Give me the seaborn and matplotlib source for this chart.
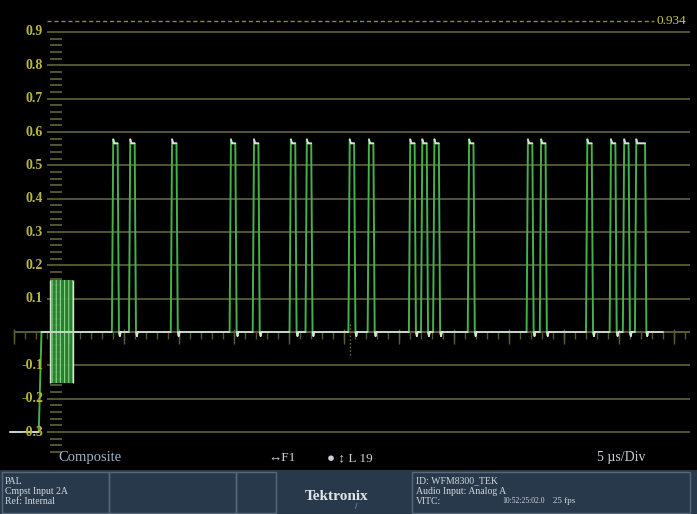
import numpy as np
import pandas as pd
import matplotlib
matplotlib.use("Agg")
import matplotlib.pyplot as plt
from matplotlib.patches import Rectangle
import seaborn as sns

# waveform monitor readout: PAL composite, VITC line, 5 us/div
level_ticks = [0.9, 0.8, 0.7, 0.6, 0.5, 0.4, 0.3, 0.2, 0.1, -0.1, -0.2, -0.3]
cursor_level = 0.934
sync_level = -0.3
trace_start_us = -0.36
sync_end_us = 2.25
sync_rise_us = 2.5
burst_start_us = 3.27
burst_end_us = 5.36
burst_top = 0.156
burst_bottom = -0.152
pulse_start_us = [8.9, 10.45, 14.25, 19.6, 21.7, 25.05, 26.5, 30.4, 32.15,
                  35.9, 37.0, 38.1, 41.25, 46.6, 47.8, 52.0, 54.15, 55.35, 56.45]
pulse_width_us = [0.6] * 18 + [1.0]
pulse_peak = 0.578
pulse_top = 0.566
trace_end_us = 59.0

left_box_lines = ["PAL", "Cmpst Input 2A", "Ref: Internal"]
right_box_lines = ["ID: WFM8300_TEK", "Audio Input: Analog A", "VITC:"]
vitc_code = "10:52:25:02.0"
frame_rate = "25 fps"

serif = ["Liberation Serif", "DejaVu Serif"]

# build trace vertices from the pulse lists
t = [trace_start_us, sync_end_us, sync_rise_us]
v = [sync_level, sync_level, 0.0]
for s, w in zip(pulse_start_us, pulse_width_us):
    t += [s, s + 0.12, s + 0.22, s + w - 0.08, s + w + 0.04, s + w + 0.12, s + w + 0.2]
    v += [0.0, pulse_peak, pulse_top, pulse_top, 0.0, -0.012, 0.0]
t.append(trace_end_us)
v.append(0.0)
trace = pd.DataFrame({"us": t, "level": v})

sns.set_theme(style="dark", rc={"axes.facecolor": "black", "figure.facecolor": "black",
                                "hatch.linewidth": 0.8})

fig = plt.figure(figsize=(6.97, 5.14), dpi=100)
ax = fig.add_axes([0, 0, 1, 1])
ax.set_xlim(-14 / 11, 683 / 11)
ax.set_ylim(-0.546, 0.996)
ax.axis("off")

grid_c = "#55552f"
# graticule
for lv in level_ticks:
    ax.hlines(lv, 3.0, 61.45, color=grid_c, lw=1.4, zorder=1)
    ax.text(2.64, lv, f"{lv:g}", ha="right", va="center", fontsize=10,
            fontweight="bold", family=serif, color="#b8b63c", zorder=5)
minor = [m for m in np.arange(-0.36, 0.89, 0.02) if abs(m * 10 - round(m * 10)) > 0.05]
ax.hlines(minor, 3.27, 4.36, color="#626238", lw=1.2, zorder=1)
ax.hlines(0, 0, 61.45, color="#6e6e36", lw=1.2, zorder=1)
us_ticks = np.arange(0, 62, 1)
ax.vlines(us_ticks, -0.022, 0.004, color="#55552f", lw=1.0, zorder=1)
ax.vlines(us_ticks[::5], -0.035, 0.008, color="#5e5e34", lw=1.0, zorder=1)
ax.vlines(30.55, -0.07, 0.027, color="#6f6f38", lw=1.0, linestyles=":", zorder=1)

# cursor
ax.hlines(cursor_level, 3.0, 58.2, color="#8a8a40", lw=1.0, linestyles=(0, (3, 2)), zorder=2)
ax.text(58.45, cursor_level, f"{cursor_level:g}", ha="left", va="center", fontsize=9.5,
        family=serif, color="#c8c848")

# colour burst
ax.fill_between([burst_start_us, burst_end_us], burst_bottom, burst_top,
                facecolor="#2f8a38", edgecolor="#8fe08a", hatch="||||", lw=0, alpha=0.9, zorder=3)
ax.vlines([burst_start_us, burst_end_us], burst_bottom, burst_top, color="#d0e8c8", lw=1.0, zorder=3)

# trace: edges green, flat parts white
sns.lineplot(data=trace, x="us", y="level", sort=False, estimator=None,
             color="#45b04c", lw=1.4, ax=ax, zorder=4)
xs, ys = [], []
for i in np.where(np.abs(np.diff(v)) < 0.05)[0]:
    xs += [t[i], t[i + 1], np.nan]
    ys += [v[i], v[i + 1], np.nan]
ax.plot(xs, ys, color="#dadfda", lw=1.2, zorder=4)


def px(x, y):
    return x / 697, 1 - y / 514


# status row
tr = ax.transAxes
ax.text(*px(58, 458), "Composite", transform=tr, ha="left", va="center", fontsize=10.5,
        family=serif, color="#9fb8cc")
ax.text(*px(268, 458), "\u2194F1", transform=tr, ha="left", va="center", fontsize=9.5,
        family=serif, color="#c8d0d8")
ax.text(*px(327, 458), "\u25cf \u2195 L 19", transform=tr, ha="left", va="center", fontsize=9.5,
        family=serif, color="#c8d0d8")
ax.text(*px(597, 458), "5 \u00b5s/Div", transform=tr, ha="left", va="center", fontsize=10,
        family=serif, color="#c8d0d8")

# bottom status panel
ax.add_patch(Rectangle(px(0, 514), 1, 44 / 514, transform=tr, facecolor="#28394b",
                       edgecolor="none", zorder=6))
for x0, x1 in [(2, 109), (109, 236), (236, 276), (412, 690)]:
    ax.add_patch(Rectangle(px(x0, 513), (x1 - x0) / 697, 41 / 514, transform=tr,
                           facecolor="none", edgecolor="#56687a", lw=1.0, zorder=7))
for i, line in enumerate(left_box_lines):
    ax.text(*px(5, 481 + 10 * i), line, transform=tr, ha="left", va="center", fontsize=7,
            family=serif, color="#d4d8dc", zorder=8)
for i, line in enumerate(right_box_lines):
    ax.text(*px(416, 481 + 10 * i), line, transform=tr, ha="left", va="center", fontsize=7,
            family=serif, color="#d4d8dc", zorder=8)
ax.text(*px(502, 501), vitc_code, transform=tr, ha="left", va="center", fontsize=5.5,
        family=serif, color="#d4d8dc", zorder=8)
ax.text(*px(553, 501), frame_rate, transform=tr, ha="left", va="center", fontsize=6.5,
        family=serif, color="#d4d8dc", zorder=8)
ax.text(*px(337, 496), "Tektronix", transform=tr, ha="center", va="center", fontsize=11,
        fontweight="bold", family=serif, color="#e2e6ea", zorder=8)
ax.text(*px(356, 507), "/", transform=tr, ha="center", va="center", fontsize=6,
        family=serif, color="#c0c8d0", zorder=8)

fig.savefig("out.png", dpi=100, facecolor="black")
